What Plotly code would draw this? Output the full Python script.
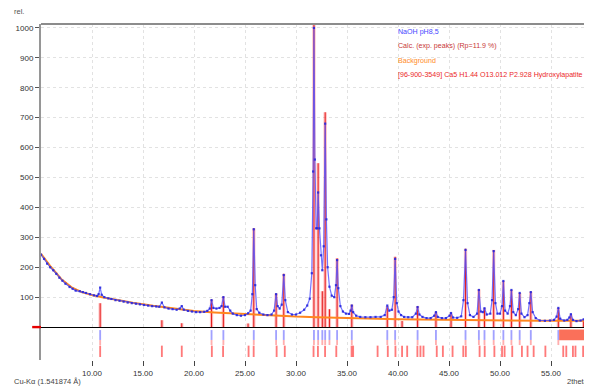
import plotly.graph_objects as go

# ---------------- data ----------------
obs_2theta = [5.0, 5.3, 5.6, 5.9, 6.2, 6.5, 6.8, 7.1, 7.4, 7.8, 8.1, 8.4, 8.8, 9.1, 9.4, 9.8,
              10.2, 10.5, 10.65, 10.8, 10.95, 11.2, 11.6, 11.9, 12.3, 12.7, 13.1, 13.5, 13.9,
              14.3, 14.7, 15.1, 15.5, 15.9, 16.3, 16.6, 16.85, 17.1, 17.5, 17.9, 18.3, 18.6,
              18.8, 19.0, 19.4, 19.8, 20.2, 20.6, 21.0, 21.3, 21.55, 21.72, 21.9, 22.2, 22.5,
              22.7, 22.88, 23.05, 23.3, 23.55, 23.8, 24.2, 24.6, 25.0, 25.3, 25.55, 25.72,
              25.86, 26.0, 26.15, 26.4, 26.8, 27.2, 27.6, 27.85, 28.05, 28.2, 28.4, 28.6, 28.8,
              28.95, 29.2, 29.6, 30.0, 30.4, 30.8, 31.1, 31.35, 31.55, 31.68, 31.76, 31.85,
              31.98, 32.08, 32.17, 32.3, 32.45, 32.58, 32.72, 32.86, 32.98, 33.1, 33.28, 33.5,
              33.75, 33.92, 34.03, 34.15, 34.35, 34.6, 34.9, 35.2, 35.35, 35.47, 35.6, 35.9,
              36.3, 36.8, 37.3, 37.8, 38.3, 38.7, 38.95, 39.15, 39.4, 39.58, 39.72, 39.88,
              40.05, 40.3, 40.6, 41.0, 41.4, 41.75, 41.92, 42.1, 42.4, 42.8, 43.2, 43.55,
              43.72, 43.9, 44.3, 44.7, 45.05, 45.2, 45.4, 45.8, 46.2, 46.42, 46.62, 46.82,
              47.05, 47.4, 47.75, 47.93, 48.12, 48.32, 48.48, 48.7, 49.05, 49.22, 49.38,
              49.55, 49.75, 50.0, 50.2, 50.33, 50.5, 50.75, 50.98, 51.12, 51.3, 51.55, 51.78,
              51.93, 52.1, 52.4, 52.7, 52.88, 53.02, 53.2, 53.5, 53.9, 54.4, 54.9, 55.3,
              55.55, 55.72, 55.9, 56.3, 56.6, 56.8, 56.95, 57.15, 57.5, 57.9, 58.2, 58.5,
              58.9, 59.1]
obs_counts = [242, 228, 212, 200, 190, 178, 165, 155, 145, 134, 128, 122, 120, 117, 114, 110,
              106, 104, 110, 132, 108, 100, 96, 94, 90, 88, 85, 82, 80,
              78, 76, 74, 72, 70, 69, 68, 82, 66, 62, 60, 58, 62,
              70, 58, 54, 52, 50, 50, 51, 54, 62, 90, 64, 62, 64,
              70, 100, 68, 68, 55, 45, 40, 38, 40, 46, 55, 110,
              327, 140, 60, 48, 42, 40, 42, 55, 110, 70, 62, 75, 174,
              90, 50, 42, 42, 48, 58, 72, 95, 180, 520, 1000, 560,
              330, 330, 450, 330, 240, 190, 270, 680, 360, 200, 135, 105,
              100, 140, 224, 130, 70, 52, 45, 44, 55, 72, 50, 38,
              34, 33, 33, 34, 34, 40, 72, 55, 58, 100, 228, 80,
              52, 40, 34, 33, 33, 45, 67, 42, 34, 30, 30, 38,
              50, 34, 30, 30, 38, 47, 32, 31, 36, 90, 258, 80,
              40, 34, 45, 124, 52, 50, 63, 42, 45, 90, 254,
              80, 45, 45, 70, 154, 55, 45, 70, 124, 50, 40, 60,
              114, 45, 33, 40, 80, 117, 50, 30, 22, 21, 22, 24,
              35, 64, 28, 22, 24, 32, 43, 24, 20, 22, 26, 21,
              20, 21]

bg_2theta = [5, 6, 7, 8, 9, 10, 11, 12, 14, 16, 18, 20, 22, 24, 26, 28, 30, 32, 34, 36,
             38, 40, 42, 44, 46, 48, 50, 52, 54, 56, 58, 59.1]
bg_counts = [245, 200, 160, 133, 117, 107, 100, 93, 81, 71, 62, 54, 49, 45, 41, 38, 35, 33,
             32, 30, 28, 26, 25, 24, 24, 23, 22, 22, 21, 21, 21, 21]

peak_2theta = [10.8, 16.85, 18.8, 21.72, 22.88, 25.3, 25.86, 28.05, 28.8, 31.76, 32.17,
               32.58, 32.86, 33.28, 34.03, 35.47, 38.95, 39.72, 40.4, 41.92, 43.72, 45.2,
               46.62, 47.93, 48.48, 49.38, 50.33, 51.12, 51.93, 53.02, 55.72, 56.95, 58.2]
peak_calc = [80, 23, 13, 92, 102, 12, 330, 112, 178, 1013, 548,
             120, 718, 60, 230, 75, 70, 235, 20, 70, 50, 45,
             262, 126, 63, 258, 154, 124, 114, 118, 64, 42, 26]

exp_tick_2theta = [10.8, 21.72, 22.88, 25.86, 28.05, 28.8, 31.76, 32.17, 32.58, 32.86, 33.28,
                   34.03, 35.47, 38.95, 39.72, 41.92, 43.72, 46.62, 47.93, 48.48, 49.38,
                   50.33, 51.12, 51.93, 53.02, 55.72]
ref_tick_2theta = [10.8, 16.85, 18.8, 21.75, 22.85, 25.35, 25.85, 28.1, 28.9, 31.72, 32.15,
                   32.85, 33.95, 35.45, 35.6, 38.0, 39.0, 39.75, 40.4, 40.9, 41.9, 42.2,
                   42.5, 43.8, 44.4, 45.35, 46.4, 46.65, 48.0, 48.5, 49.45, 50.2, 50.45,
                   51.2, 52.15, 52.7, 53.3, 54.45, 56.2, 56.5, 57.15, 57.4, 58.15, 58.45,
                   58.85]
band_2theta = [55.8, 59.2]

x_tick_vals = [10, 15, 20, 25, 30, 35, 40, 45, 50, 55]
x_tick_text = ["10.00", "15.00", "20.00", "25.00", "30.00", "35.00", "40.00", "45.00",
               "50.00", "55.00"]
y_tick_vals = [100, 200, 300, 400, 500, 600, 700, 800, 900, 1000]

legend_texts = ["NaOH pH8,5", "Calc. (exp. peaks) (Rp=11.9 %)", "Background",
                "[96-900-3549] Ca5 H1.44 O13.012 P2.928 Hydroxylapatite"]
legend_colors = ["rgb(70,70,255)", "rgb(200,55,55)", "rgb(255,140,40)", "rgb(235,40,40)"]

FONT = "Liberation Sans, Arial, sans-serif"

# ---------------- figure ----------------
fig = go.Figure()

fig.add_trace(go.Scatter(x=bg_2theta, y=bg_counts, mode="lines",
                         line=dict(color="rgb(255,135,30)", width=2), hoverinfo="skip"))
fig.add_trace(go.Bar(x=peak_2theta, y=peak_calc, width=0.32,
                     marker=dict(color="rgba(255,90,90,0.40)", line=dict(width=0))))
fig.add_trace(go.Bar(x=peak_2theta, y=peak_calc, width=0.1,
                     marker=dict(color="rgba(225,0,0,0.85)", line=dict(width=0))))
fig.add_trace(go.Scatter(x=obs_2theta, y=obs_counts, mode="lines+markers",
                         line=dict(color="rgba(80,80,255,0.8)", width=1.2),
                         marker=dict(color="rgba(40,40,220,0.9)", size=2.2, symbol="square")))

n_exp = len(exp_tick_2theta)
n_ref = len(ref_tick_2theta)
fig.add_trace(go.Bar(x=exp_tick_2theta, y=[33] * n_exp, base=-43, width=0.18,
                     marker=dict(color="rgba(110,110,255,0.65)", line=dict(width=0))))
fig.add_trace(go.Bar(x=exp_tick_2theta, y=[17] * n_exp, base=-60, width=0.18,
                     marker=dict(color="rgba(255,120,120,0.6)", line=dict(width=0))))
fig.add_trace(go.Bar(x=ref_tick_2theta, y=[38] * n_ref, base=-100, width=0.18,
                     marker=dict(color="rgba(255,50,50,0.65)", line=dict(width=0))))

shapes = [
    dict(type="rect", xref="x", yref="y", x0=band_2theta[0], x1=band_2theta[1], y0=-44, y1=-8,
         fillcolor="rgb(250,112,90)", line=dict(width=0), layer="above"),
    dict(type="rect", xref="paper", yref="y", x0=-0.016, x1=0, y0=-4, y1=4,
         fillcolor="rgb(230,0,0)", line=dict(width=0)),
    dict(type="line", xref="paper", yref="paper", x0=0, x1=1, y0=1, y1=1,
         line=dict(color="rgb(140,140,140)", width=2)),
]

annotations = []
leg_y = [0.976, 0.934, 0.890, 0.848]
for txt, col, yy in zip(legend_texts, legend_colors, leg_y):
    annotations.append(dict(text=txt, xref="paper", yref="paper", x=0.644, y=yy,
                            xanchor="left", yanchor="middle", showarrow=False,
                            font=dict(family=FONT, size=7.1, color=col)))
annotations.append(dict(text="rel.", xref="paper", yref="paper", x=-0.053, y=1.036,
                        xanchor="left", yanchor="middle", showarrow=False,
                        font=dict(family=FONT, size=7.5, color="#555")))
annotations.append(dict(text="Cu-Kα (1.541874 Å)", xref="paper", yref="paper", x=-0.053,
                        y=-0.064, xanchor="left", yanchor="middle", showarrow=False,
                        font=dict(family=FONT, size=7.5, color="#444")))
annotations.append(dict(text="2theta", xref="paper", yref="paper", x=0.998, y=-0.064,
                        xanchor="right", yanchor="middle", showarrow=False,
                        font=dict(family=FONT, size=7.5, color="#444")))

# the page body adds an 8 px margin, so the figure is 8 px smaller and offset accordingly
fig.update_layout(
    width=584, height=379,
    margin=dict(l=33, r=0, t=16, b=27, pad=0),
    paper_bgcolor="white", plot_bgcolor="white",
    showlegend=False, barmode="overlay",
    shapes=shapes, annotations=annotations,
    font=dict(family=FONT, size=8, color="#444"),
    xaxis=dict(range=[5, 59.02], tickvals=x_tick_vals, ticktext=x_tick_text,
               ticks="outside", ticklen=5, tickcolor="#444", tickwidth=1,
               showline=False, zeroline=False,
               showgrid=True, gridcolor="#e2e2e2", griddash="dot", gridwidth=1,
               tickfont=dict(family=FONT, size=8, color="#333")),
    yaxis=dict(range=[-110, 1013], tickvals=y_tick_vals,
               ticks="outside", ticklen=4, tickcolor="#555", tickwidth=1,
               showline=True, linecolor="rgb(150,150,150)", linewidth=2,
               zeroline=True, zerolinecolor="black", zerolinewidth=1.2,
               showgrid=True, gridcolor="#e2e2e2", griddash="dot", gridwidth=1,
               tickfont=dict(family=FONT, size=8, color="#333")),
)

fig.write_html("out.html")
